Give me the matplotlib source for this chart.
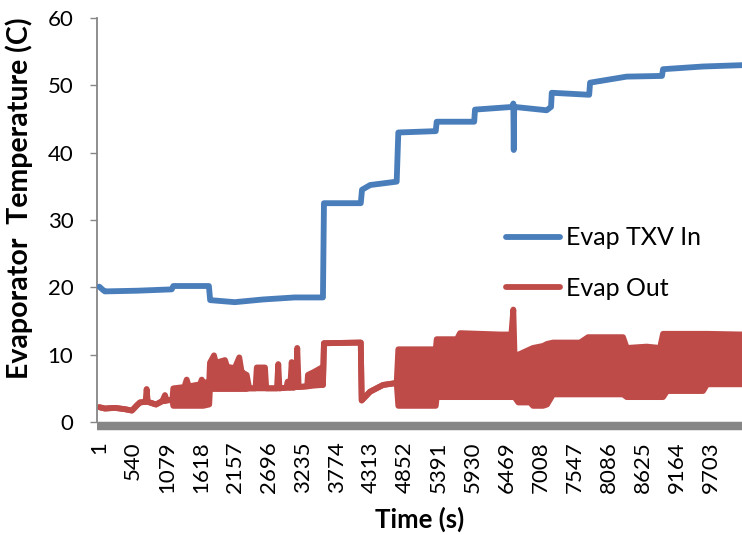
import matplotlib
matplotlib.use("Agg")
import matplotlib.pyplot as plt

plt.rcParams['font.family'] = ['Lato', 'DejaVu Sans']

# Evaporator inlet (TXV) temperature: time (s) and value (C) at breakpoints
txv_t = [1, 60, 90, 600, 1150, 1175, 1740, 1760, 2150, 2600, 3100, 3550,
         3566, 4150, 4170, 4300, 4720, 4746, 5340, 5355, 5950, 5963, 6560,
         6571, 6578, 6585, 7100, 7170, 7181, 7775, 7789, 8371, 8930, 8947,
         9581, 10200]
txv_v = [20.1, 19.6, 19.4, 19.5, 19.7, 20.2, 20.2, 18.1, 17.8, 18.2, 18.5, 18.5,
         32.5, 32.5, 34.5, 35.2, 35.7, 43.0, 43.2, 44.6, 44.6, 46.4, 46.8,
         47.3, 40.4, 46.8, 46.3, 46.8, 48.9, 48.6, 50.4, 51.3, 51.4, 52.4,
         52.8, 53.0]

# Evaporator outlet temperature: time (s), lower and upper extent of the trace
out_t = [1, 91, 250, 409, 519, 600, 646, 735, 752, 770, 900, 1000, 1043, 1070,
         1160, 1175, 1350, 1388, 1420, 1600, 1626, 1650, 1745, 1757, 1821, 1850,
         1995, 2030, 2150, 2222, 2260, 2300, 2340, 2380, 2480, 2500, 2630, 2650,
         2820, 2841, 2860, 2970, 2990, 3010, 3030, 3054, 3080, 3120, 3142, 3165,
         3300, 3312, 3400, 3534, 3550, 3566, 4150, 4165, 4297, 4503, 4720, 4746,
         5340, 5355, 5677, 5725, 6360, 6540, 6571, 6590, 6651, 6836, 6884, 7043,
         7106, 7201, 7630, 7757, 8312, 8371, 8688, 8899, 8947, 9010, 9581, 9645,
         10200]
out_low = [2.2, 2.0, 2.1, 1.9, 1.7, 2.5, 2.9, 3.0, 3.0, 3.0, 2.6, 3.1, 3.1, 3.2,
           3.3, 2.4, 2.4, 2.4, 2.4, 2.4, 2.4, 2.4, 2.6, 4.9, 4.9, 4.9,
           4.9, 4.9, 4.9, 4.9, 4.9, 4.9, 4.9, 5.0, 5.0, 5.0, 5.0, 5.0,
           5.0, 5.0, 5.0, 5.1, 5.1, 5.1, 5.1, 5.1, 5.1, 5.2, 5.2, 5.2,
           5.3, 5.3, 5.4, 5.5, 5.5, 11.7, 11.8, 3.2, 4.5, 5.5, 5.8, 2.4,
           2.4, 3.7, 3.7, 3.7, 3.7, 3.7, 3.7, 3.7, 2.9, 2.9, 2.4, 2.4,
           2.6, 4.1, 4.1, 4.1, 4.1, 3.7, 3.7, 3.7, 3.7, 4.6, 4.6, 5.6,
           5.6]
out_high = [2.2, 2.0, 2.1, 1.9, 1.7, 2.5, 2.9, 3.0, 4.9, 3.0, 2.6, 3.1, 4.0, 3.2,
            3.3, 5.0, 5.2, 6.3, 5.3, 5.6, 6.3, 5.8, 6.0, 8.8, 9.9, 8.8,
            9.2, 8.2, 8.0, 9.6, 7.4, 7.2, 7.0, 5.0, 5.0, 8.1, 8.1, 5.0,
            5.0, 8.6, 5.0, 5.1, 6.0, 5.1, 5.1, 8.9, 5.1, 5.2, 11.0, 5.2,
            5.3, 7.0, 7.4, 8.1, 5.5, 11.7, 11.8, 3.2, 4.5, 5.5, 5.8, 10.8,
            10.8, 12.3, 12.3, 13.2, 13.0, 13.0, 16.7, 10.0, 10.0, 10.8, 11.0, 11.3,
            11.6, 11.8, 11.8, 12.6, 12.6, 11.0, 11.2, 11.0, 13.1, 13.1, 13.1, 13.1,
            13.0]

tick_labels = ['1', '540', '1079', '1618', '2157', '2696', '3235', '3774',
               '4313', '4852', '5391', '5930', '6469', '7008', '7547', '8086',
               '8625', '9164', '9703']

blue = '#4A7EBB'
red = '#BE4B48'
grey = '#868686'

fig = plt.figure(figsize=(7.42, 5.35), dpi=100)
ax = fig.add_axes([0.1307, 0.2112, 0.8693, 0.7551])

lw = 4.2
ax.plot(txv_t, txv_v, color=blue, lw=lw, solid_joinstyle='round',
        solid_capstyle='round', label='Evap TXV In', zorder=3)
ax.fill_between(out_t, out_low, out_high, color=red, lw=0, zorder=2)
ax.plot(out_t, out_low, color=red, lw=lw, solid_joinstyle='round',
        solid_capstyle='round', label='Evap Out', zorder=2)
ax.plot(out_t, out_high, color=red, lw=lw, solid_joinstyle='round',
        solid_capstyle='round', zorder=2)

ax.set_xlim(-36, 10200)
ax.set_ylim(0, 60)
ax.set_yticks(range(0, 61, 10))
ax.set_xticks([int(s) for s in tick_labels])
ax.set_xticklabels(tick_labels)

for side in ('top', 'right'):
    ax.spines[side].set_visible(False)
ax.spines['left'].set_color(grey)
ax.spines['left'].set_linewidth(1.3)
ax.spines['bottom'].set_color(grey)
ax.spines['bottom'].set_linewidth(6.1)
ax.spines['bottom'].set_position(('outward', 2.7))
ax.spines['bottom'].set_capstyle('butt')

ax.tick_params(axis='y', direction='out', length=5, width=1, color=grey,
               labelsize=16, pad=12)
ax.tick_params(axis='x', length=0, labelsize=16, pad=11, labelrotation=90)

ax.set_ylabel('Evaporator  Temperature (C)', fontsize=20.5, fontweight='bold')
ax.yaxis.set_label_coords(-0.099, 0.553)
ax.set_xlabel('Time (s)', fontsize=18.5, fontweight='bold', labelpad=10)

leg = ax.legend(loc='upper left', bbox_to_anchor=(0.651, 0.619),
                bbox_transform=fig.transFigure, frameon=False, fontsize=18,
                handlelength=2.16, handletextpad=0.24, labelspacing=1.1)

fig.savefig('out.png', dpi=100)
